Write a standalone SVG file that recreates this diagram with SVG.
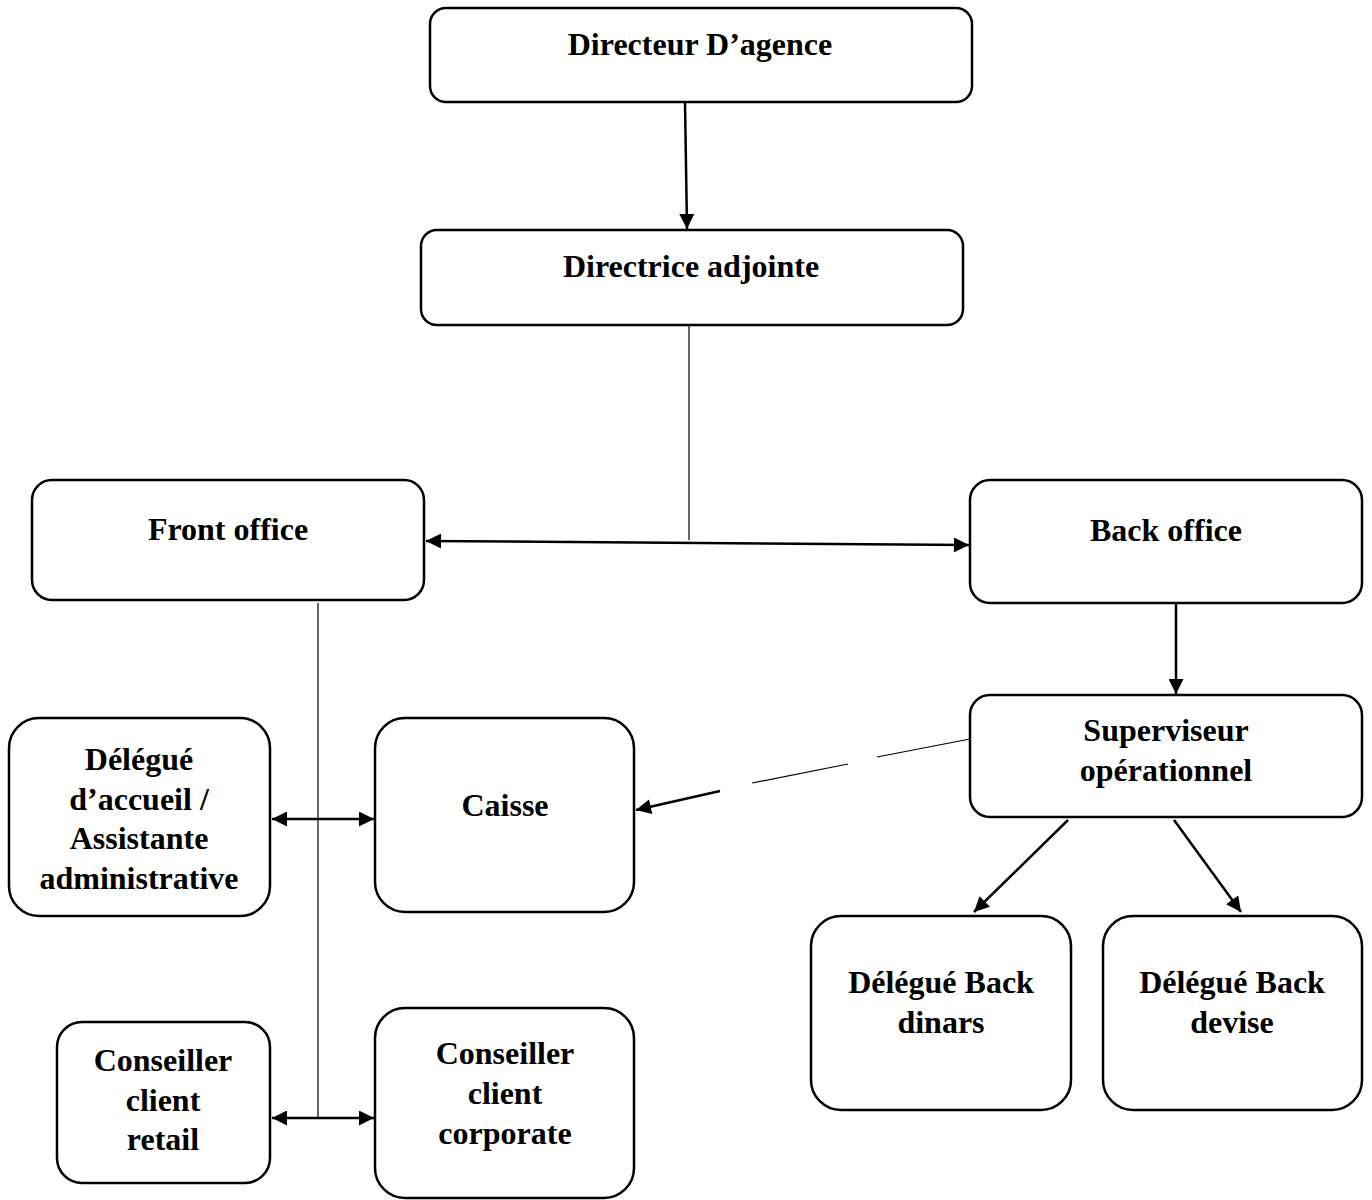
<svg xmlns="http://www.w3.org/2000/svg" width="1372" height="1200" viewBox="0 0 1372 1200">
<style>
.box{fill:#fff;stroke:#000;stroke-width:2.5}
.t{font-family:"Liberation Serif","Times New Roman",serif;font-weight:bold;font-size:32px;text-anchor:middle;fill:#000}
.c{stroke:#000;fill:none;stroke-width:2.5}
.th{stroke:#000;fill:none;stroke-width:1.2}
</style>
<defs>
<marker id="ah" viewBox="0 0 10 10" refX="10" refY="5" markerWidth="6.5" markerHeight="6" orient="auto-start-reverse" markerUnits="strokeWidth">
<path d="M0,0 L10,5 L0,10 z" fill="#000"/>
</marker>
</defs>
<rect width="1372" height="1200" fill="#fff"/>
<g id="connectors">
<line class="c" x1="685" y1="102" x2="687" y2="229" marker-end="url(#ah)"/>
<line class="th" x1="689" y1="325" x2="689" y2="540"/>
<line class="c" x1="426" y1="541" x2="969" y2="545" marker-start="url(#ah)" marker-end="url(#ah)"/>
<line class="th" x1="318" y1="603" x2="318" y2="1118"/>
<line class="c" x1="272" y1="819" x2="374" y2="819" marker-start="url(#ah)" marker-end="url(#ah)"/>
<line class="c" x1="272" y1="1118" x2="374" y2="1118" marker-start="url(#ah)" marker-end="url(#ah)"/>
<line class="c" x1="1176" y1="600" x2="1176" y2="694" marker-end="url(#ah)"/>
<line class="th" x1="970" y1="739" x2="877" y2="757"/>
<line class="th" x1="848" y1="764" x2="752" y2="783"/>
<line class="c" x1="720" y1="791" x2="636" y2="810" marker-end="url(#ah)"/>
<line class="c" x1="1068" y1="820" x2="974" y2="912" marker-end="url(#ah)"/>
<line class="c" x1="1174" y1="820" x2="1241" y2="912" marker-end="url(#ah)"/>
</g>
<g id="n1"><rect class="box" x="430" y="8" width="542" height="94" rx="16"/><text class="t" x="700" y="55">Directeur D’agence</text></g>
<g id="n2"><rect class="box" x="421" y="230" width="542" height="95" rx="16"/><text class="t" x="691" y="277">Directrice adjointe</text></g>
<g id="n3"><rect class="box" x="32" y="480" width="392" height="120" rx="20"/><text class="t" x="228" y="540">Front office</text></g>
<g id="n4"><rect class="box" x="970" y="480" width="392" height="123" rx="20"/><text class="t" x="1166" y="541">Back office</text></g>
<g id="n5"><rect class="box" x="970" y="695" width="392" height="122" rx="20"/><text class="t" x="1166" y="741">Superviseur</text><text class="t" x="1166" y="781">opérationnel</text></g>
<g id="n6"><rect class="box" x="9" y="718" width="261" height="198" rx="30"/><text class="t" x="139" y="770">Délégué</text><text class="t" x="139" y="810">d’accueil /</text><text class="t" x="139" y="849">Assistante</text><text class="t" x="139" y="889">administrative</text></g>
<g id="n7"><rect class="box" x="375" y="718" width="259" height="194" rx="30"/><text class="t" x="505" y="816">Caisse</text></g>
<g id="n8"><rect class="box" x="811" y="916" width="260" height="194" rx="30"/><text class="t" x="941" y="993">Délégué Back</text><text class="t" x="941" y="1033">dinars</text></g>
<g id="n9"><rect class="box" x="1103" y="916" width="259" height="194" rx="30"/><text class="t" x="1232" y="993">Délégué Back</text><text class="t" x="1232" y="1033">devise</text></g>
<g id="n10"><rect class="box" x="57" y="1022" width="213" height="161" rx="25"/><text class="t" x="163" y="1071">Conseiller</text><text class="t" x="163" y="1111">client</text><text class="t" x="163" y="1150">retail</text></g>
<g id="n11"><rect class="box" x="375" y="1008" width="259" height="190" rx="30"/><text class="t" x="505" y="1064">Conseiller</text><text class="t" x="505" y="1104">client</text><text class="t" x="505" y="1144">corporate</text></g>
</svg>
